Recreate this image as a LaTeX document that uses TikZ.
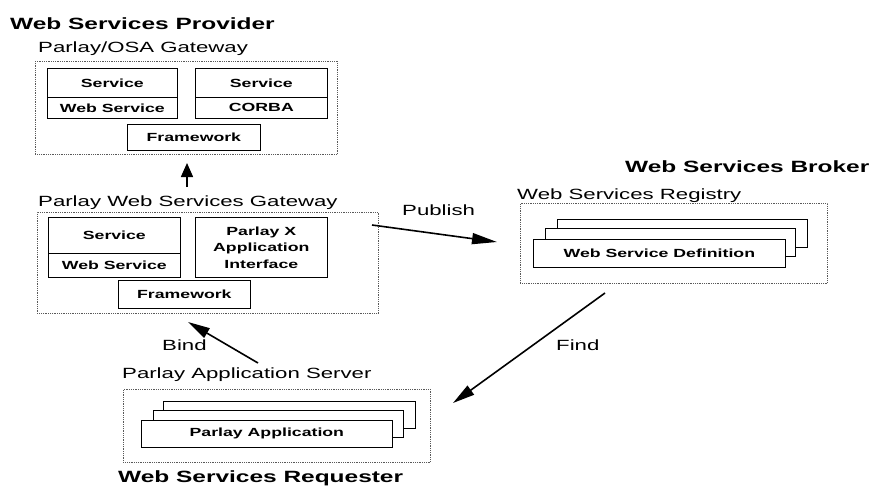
\documentclass[tikz,border=0pt]{standalone}
\usepackage{fontspec}
\setmainfont{Liberation Sans}[FakeStretch=1.5]
\usetikzlibrary{arrows.meta,calc}
\begin{document}
\begin{tikzpicture}[x=1pt,y=-1pt,
 title/.style={font=\bfseries\fontsize{16.3}{18}\selectfont, inner sep=0pt, anchor=base west},
 lbl/.style={font=\fontsize{14.8}{17}\selectfont, inner sep=0pt, anchor=base west},
 outer/.style={draw=black!65, densely dotted, line width=0.8pt, rectangle, inner sep=0pt, anchor=north west},
 inbox/.style={draw=black, line width=0.7pt, rectangle, inner sep=0pt, anchor=north west,
   font=\bfseries\fontsize{11.8}{16.5}\selectfont, align=center, fill=white},
 arr/.style={line width=1.6pt},
]
\useasboundingbox[fill=white] (0,0) rectangle (875,488);

% ---- Provider ----
\node[title] (tprov) at (10,29) {Web Services Provider};
\node[lbl] (losa) at (38,52) {Parlay/OSA Gateway};
\node[outer, minimum width=302pt, minimum height=93pt] (osa) at (35,61) {};
\node[inbox, minimum width=130pt, minimum height=29pt] (osaS1) at (47,68) {Service};
\node[inbox, minimum width=130pt, minimum height=21pt] (osaW) at (47,97) {Web Service};
\node[inbox, minimum width=132pt, minimum height=29pt] (osaS2) at (195,68) {Service};
\node[inbox, minimum width=132pt, minimum height=21pt] (osaC) at (195,97) {CORBA};
\node[inbox, minimum width=133pt, minimum height=26pt] (osaF) at (127,124) {Framework};

\node[lbl] (lgw) at (38,206) {Parlay Web Services Gateway};
\node[outer, minimum width=341pt, minimum height=101pt] (gw) at (37,212) {};
\node[inbox, minimum width=132pt, minimum height=36pt] (gwS) at (48,217) {Service};
\node[inbox, minimum width=132pt, minimum height=24pt] (gwW) at (48,253) {Web Service};
\node[inbox, minimum width=132pt, minimum height=60pt] (gwX) at (195,217) {Parlay X\\Application\\Interface};
\node[inbox, minimum width=132pt, minimum height=28pt] (gwF) at (118,280) {Framework};

% ---- Broker ----
\node[title] (tbrok) at (625,172) {Web Services Broker};
\node[lbl] (lreg) at (517,199) {Web Services Registry};
\node[outer, minimum width=307pt, minimum height=80pt] (reg) at (520,203) {};
\node[inbox, minimum width=250pt, minimum height=28pt] (reg3) at (557,219) {};
\node[inbox, minimum width=250pt, minimum height=28pt] (reg2) at (545,228) {};
\node[inbox, minimum width=252pt, minimum height=28pt] (reg1) at (533,239) {Web Service Definition};

% ---- Requester ----
\node[lbl] (lapp) at (122,378) {Parlay Application Server};
\node[outer, minimum width=307pt, minimum height=73pt] (app) at (123,389) {};
\node[inbox, minimum width=252pt, minimum height=27pt] (app3) at (163,401) {};
\node[inbox, minimum width=250pt, minimum height=27pt] (app2) at (153,410) {};
\node[inbox, minimum width=251pt, minimum height=27pt] (app1) at (141,420) {Parlay Application};
\node[title] (treq) at (118,482) {Web Services Requester};

% ---- connector labels ----
\node[lbl] (pub) at (402,215) {Publish};
\node[lbl] (bind) at (162,350) {Bind};
\node[lbl] (find) at (556,350) {Find};

% ---- connectors ----
\coordinate (upS) at (187,187);
\coordinate (upE) at (187,163);
\coordinate (pubS) at (372,225);
\coordinate (pubE) at (497,242);
\coordinate (findS) at (605,293);
\coordinate (findE) at (453,403);
\coordinate (bindS) at (258,363);
\coordinate (bindE) at (188,322);
\draw[arr, -{Triangle[length=14pt,width=12pt]}] (upS) -- (upE);
\draw[arr, -{Triangle[length=25pt,width=11pt]}] (pubS) -- (pubE);
\draw[arr, -{Triangle[length=22pt,width=11pt]}] (findS) -- (findE);
\draw[arr, -{Triangle[length=22pt,width=11pt]}] (bindS) -- (bindE);
\end{tikzpicture}
\end{document}
